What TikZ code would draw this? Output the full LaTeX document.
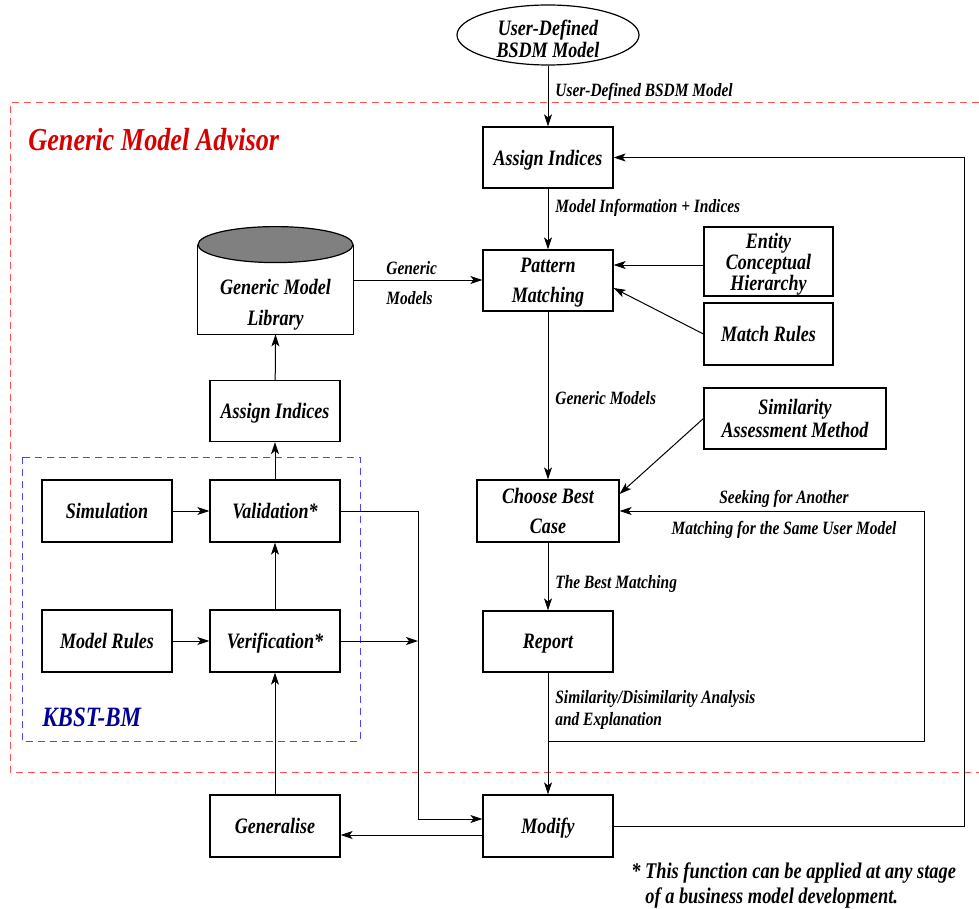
\documentclass[tikz,border=0pt]{standalone}
\usepackage{fontspec}
\setmainfont{Liberation Serif}[FakeStretch=0.82]
\usetikzlibrary{arrows.meta, positioning, shapes.geometric, calc}

\definecolor{advred}{RGB}{215,0,0}
\definecolor{frred}{RGB}{255,80,80}
\definecolor{frblue}{RGB}{70,70,255}
\definecolor{kbblue}{RGB}{0,0,150}

\tikzset{
  box/.style={draw, line width=0.6pt, inner sep=0pt, align=center,
    minimum width=65pt, minimum height=30.5pt, text depth=-1.5pt,
    font=\fontsize{11}{11}\selectfont\bfseries\itshape},
  lbl/.style={inner sep=0pt, align=left,
    font=\fontsize{9.4}{11}\selectfont\bfseries\itshape},
  arr/.style={-{Stealth[length=6pt,width=4pt,inset=1.5pt]}, line width=0.5pt},
  frame/.style={dash pattern=on 3.5pt off 2.5pt, line width=0.5pt}
}

\begin{document}
\begin{tikzpicture}[x=0.5pt, y=-0.5pt]
    \useasboundingbox (0,0) rectangle (979,909);

    % Frames
    \draw[frame, frred] (979,103) -- (10,103) -- (10,772) -- (979,772);
    \draw[frame, frblue] (22,457) rectangle (360,741);
    \node[anchor=west, inner sep=0pt, text=advred,
          font=\fontsize{16}{16}\selectfont\bfseries\itshape] (gma) at (28,140) {Generic Model Advisor};
    \node[anchor=west, inner sep=0pt, text=kbblue,
          font=\fontsize{14}{14}\selectfont\bfseries\itshape] (kbst) at (42,717) {KBST-BM};

    % User model
    \node[box, ellipse, minimum width=91pt, minimum height=30pt] (user) at (548,35) {};
    \node[box, draw=none, minimum width=0pt, minimum height=0pt] (usertext) at (548,39) {User-Defined\\BSDM Model};

    % Right column
    \node[box] (assignA) at (548,157.5) {Assign Indices};
    \node[box] (pattern) at (548,280.5) {Pattern\\[4pt]Matching};
    \node[box, minimum width=71pt, minimum height=31pt] (choose) at (548,511) {Choose Best\\[4pt]Case};
    \node[box] (report) at (548,641.5) {Report};
    \node[box, minimum height=31pt] (modify) at (548,826) {Modify};

    \node[box, minimum width=64.5pt, minimum height=34.5pt] (entity) at (768.5,261.5) {Entity\\[-0.5pt]Conceptual\\[-0.5pt]Hierarchy};
    \node[box, minimum width=64.5pt, minimum height=31pt] (matchrules) at (768.5,334) {Match Rules};
    \node[box, minimum width=91pt] (similarity) at (795,418.5) {Similarity\\[0.5pt]Assessment Method};

    % Left column
    \node[minimum width=77.5pt, minimum height=44.5pt, inner sep=0pt] (lib) at (275.5,289.5) {};
    \filldraw[fill=white, line width=0.6pt] (lib.north west) -- (lib.south west) -- (lib.south east) -- (lib.north east);
    \draw[fill=gray, line width=0.6pt] (lib.north) ellipse [x radius=38.75pt, y radius=9pt];
    \node[box, draw=none] (libtext) at (275.5,302) {Generic Model\\[4.5pt]Library};

    \node[box] (assignB) at (275,411) {Assign Indices};
    \node[box, minimum height=31pt] (validation) at (275,511) {Validation*};
    \node[box, minimum height=31pt] (verification) at (275,641) {Verification*};
    \node[box, minimum height=31pt] (simulation) at (107,511) {Simulation};
    \node[box, minimum height=31pt] (modelrules) at (107,641) {Model Rules};
    \node[box, minimum height=31pt] (generalise) at (275,826) {Generalise};

    \coordinate (vline) at (418,0);
    \coordinate (loopR) at (924,741);
    \coordinate (fbR) at (964,0);
    \coordinate (modIn) at ([yshift=3.5pt]modify.west);

    % Main flow
    \draw[arr] (user) -- (assignA);
    \draw[arr] (assignA) -- (pattern);
    \draw[arr] (pattern) -- (choose);
    \draw[arr] (choose) -- (report);
    \draw[arr] (report) -- (modify);
    \draw[arr] ([yshift=-1.75pt]entity.west) -- ([yshift=7.75pt]pattern.east);
    \draw[arr] (matchrules.west) -- ([yshift=-3.75pt]pattern.east);
    \draw[arr] ([yshift=4.75pt]lib.east) -- ([yshift=4.75pt]lib.east -| pattern.west);
    \draw[arr] (similarity.west) -- ([yshift=8.5pt]choose.east);
    \draw[arr] (report.south |- loopR) -- (loopR) |- (choose.east);
    \draw[arr] (modify.east) -- (modify.east -| fbR) -- (assignA.east -| fbR) -- (assignA.east);

    % KBST-BM
    \draw[arr] (simulation) -- (validation);
    \draw[arr] (modelrules) -- (verification);
    \draw[arr] (verification) -- (validation);
    \draw[arr] (validation) -- (assignB);
    \draw[arr] (assignB) -- (lib.south);
    \draw[arr] (generalise) -- (verification);
    \draw[arr] (verification.east) -- (verification.east -| vline);
    \draw[arr] (validation.east) -- (validation.east -| vline) -- (vline |- modIn) -- (modIn);
    \draw[arr] ([yshift=-4.5pt]modify.west) -- ([yshift=-4.5pt]generalise.east);

    % Labels
    \node[lbl, anchor=west] (l1) at (555,92) {User-Defined BSDM Model};
    \node[lbl, anchor=west] (l2) at (555,208) {Model Information + Indices};
    \node[lbl, anchor=west] (l3) at (386,283) {Generic\\[4pt]Models};
    \node[lbl, anchor=west] (l4) at (555,398) {Generic Models};
    \node[lbl, anchor=west] (l5) at (555,584) {The Best Matching};
    \node[lbl, anchor=west] (l6) at (555,710) {Similarity/Disimilarity Analysis\\and Explanation};
    \node[lbl, align=center] (l7) at (784,514.5) {Seeking for Another\\[4.5pt]Matching for the Same User Model};
    \node[lbl, anchor=west, font=\fontsize{11.2}{12.5}\selectfont\bfseries\itshape] (note) at (631,885)
        {* This function can be applied at any stage\\\hspace*{7pt}of a business model development.};
\end{tikzpicture}
\end{document}
